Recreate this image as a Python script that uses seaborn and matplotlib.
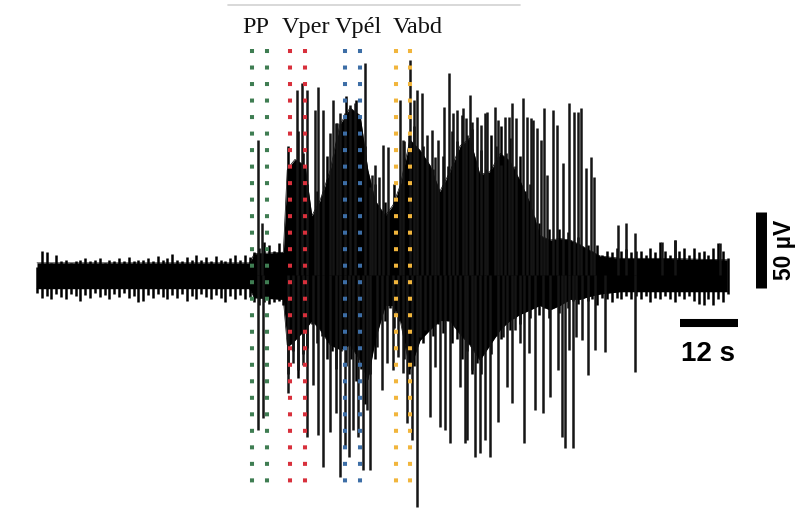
import numpy as np
import matplotlib
matplotlib.use("Agg")
import matplotlib.pyplot as plt
from matplotlib.lines import Line2D
import seaborn as sns

# ---------------- data (time in s, amplitude in µV) ----------------
# dense core of the EMG trace (inner envelope)
core_t = [0, 44, 45, 51, 51.8, 52.4, 53.4, 55.5, 56.9, 58.6, 60.7, 62.7, 64.8, 66.9,
          68.5, 70.0, 72.1, 73.7, 75.2, 77.2, 79.3, 81.4, 83.4, 85.5, 87.6, 89.6,
          91.7, 93.8, 95.9, 97.9, 100.0, 102.1, 104.1, 106.2, 108.3, 110.4, 112.4,
          114.5, 116.6, 120.7, 129.0, 142.9]
core_hi = [8, 8, 14, 15, 69, 72, 76, 72, 39, 49, 69, 99, 110, 105, 69, 49, 39, 46, 59,
           89, 82, 72, 55, 68, 85, 90, 66, 68, 80, 75, 62, 47, 26, 23, 24, 23, 20, 16,
           12.5, 11, 11, 10]
core_lo = [-9, -9, -15, -16, -46, -46, -43, -36, -30, -36, -46, -49, -46, -56, -69, -43,
           -20, -20, -30, -62, -43, -36, -30, -30, -39, -46, -56, -46, -36, -30, -26,
           -23, -20, -23, -20, -16, -16, -14, -12.5, -11, -11, -11]

# per-second peak excursions (t = 0 .. 143 s)
peak_hi = [5, 16, 15, 8, 13, 9, 10, 8, 9, 10,
           11, 9, 10, 11, 8, 10, 9, 11, 9, 12,
           9, 10, 10, 11, 9, 12.5, 10, 11, 14, 10,
           9, 12, 10, 13, 10, 12, 9, 12.5, 10, 9,
           11, 13, 10, 13, 12, 15,
           18, 22, 20, 16, 21, 15,
           85, 70, 95, 80, 60, 38, 55, 52, 78, 70,
           100, 92, 118, 105, 115, 95, 85, 55, 60, 40,
           48, 40, 60, 55, 88, 92, 98, 80, 85, 65,
           70, 55, 78, 72, 95, 88, 105, 92, 96, 70,
           82, 70, 92, 85, 98, 80, 90, 72, 78, 55,
           60, 38, 34, 24, 30, 22, 30, 24, 28, 20,
           25, 18, 20,
           16, 20, 13, 16, 15, 18, 16, 17, 15, 16,
           16, 13, 18, 15, 22, 16, 13, 23, 16, 18,
           13, 18, 15, 16, 13, 18, 21, 16, 11]
peak_lo = [-12, -15, -14, -16, -12.5, -14.5, -16, -12.5, -14, -17,
           -13, -15, -12, -14.5, -13, -16, -12.5, -14.5, -12, -15,
           -14, -18, -17, -13, -15, -12.5, -14.5, -16, -13, -15,
           -12.5, -17, -14, -16, -12.5, -14.5, -16, -13, -15, -18,
           -14, -16, -13, -16, -14.5, -18,
           -20, -18, -19, -18, -17, -20,
           -65, -50, -68, -52, -48, -32, -45, -40, -55, -50,
           -62, -50, -60, -55, -70, -62, -85, -65, -55, -28,
           -30, -22, -35, -30, -55, -65, -60, -42, -45, -35,
           -40, -32, -38, -30, -45, -42, -55, -50, -65, -58,
           -65, -48, -52, -40, -42, -30, -36, -28, -32, -24,
           -28, -22, -26, -22, -28, -20, -25, -18, -22, -17,
           -19, -15, -17,
           -16, -20, -15, -16, -18, -15, -16, -14, -16, -14,
           -16, -14, -18, -15, -16, -14, -16, -18, -14, -16,
           -14, -17, -19, -20, -16, -20, -16, -18, -12.5]

# isolated tall spikes
up_t = [45.8, 46.6, 53.8, 54.9, 55.9, 57.6, 58.2, 59.2, 60.7, 61.3, 62.1, 62.7, 63.8,
        64.8, 65.8, 67.9, 68.9, 69.4, 70.0, 70.8, 71.6, 72.7, 75.2, 75.8, 77.2, 78.1,
        78.7, 79.7, 80.7, 81.8, 82.4, 83.0, 84.3, 85.3, 86.1, 87.0, 88.2, 88.8, 89.6,
        90.1, 91.1, 91.9, 92.8, 93.2, 94.8, 95.4, 96.1, 96.9, 97.7, 98.3, 99.2, 100.6,
        101.4, 102.3, 102.7, 103.5, 104.3, 105.0, 105.6, 106.8, 107.7, 108.9, 110.1,
        111.2, 112.0, 112.6, 113.7, 114.7, 115.3, 120.3, 121.9, 123.8, 129.4, 132.1,
        141.4]
up_amp = [88.8, 34, 121.7, 126, 121.7, 108.6, 123.7, 108.6, 93.4, 115, 100, 106.6,
          106.6, 111.8, 113, 139.5, 58, 65.8, 72.4, 64.5, 85.5, 84.2, 115, 88.8, 141.4,
          115, 121.7, 119.7, 92, 95.4, 77.6, 88.8, 110.5, 132.9, 106.6, 108.6, 109.9,
          103.3, 118.4, 100.7, 103.9, 98.7, 106.6, 107.2, 110.5, 102, 72.4, 103.9,
          103.9, 113.2, 103.3, 116.4, 103.9, 103.3, 102, 96.7, 88.8, 109.9, 65.8,
          108.6, 98.7, 73.7, 113.2, 107.2, 107.2, 109.9, 70.4, 77.6, 64.5, 32.9, 34.2,
          27.6, 21.7, 23, 21]
down_t = [45.8, 46.8, 52.0, 53.0, 54.0, 55.1, 55.9, 57.1, 58.2, 59.2, 60.7, 61.9, 62.7,
          63.8, 64.6, 65.4, 66.5, 67.5, 68.3, 68.9, 70.4, 71.4, 72.5, 73.7, 74.7, 75.8,
          76.6, 77.6, 78.7, 79.3, 80.3, 81.4, 82.4, 83.4, 84.5, 85.5, 86.5, 87.6, 88.6,
          89.0, 90.1, 90.7, 91.7, 92.8, 93.8, 95.4, 96.5, 97.3, 98.3, 99.0, 100.0,
          100.8, 101.9, 103.1, 104.8, 106.2, 107.9, 108.7, 109.3, 110.1, 111.0, 111.6,
          112.8, 114.1, 115.5, 117.6, 123.8]
down_amp = [-102, -94, -77.6, -57.9, -62.5, -59.2, -106.6, -72.4, -105.3, -126.3,
            -103.3, -90.8, -132.9, -113.2, -119.7, -102, -106.6, -128.3, -88.8, -128.3,
            -47.4, -75.7, -57.9, -62.5, -53.9, -64.5, -97.4, -108.6, -152.6, -40.8,
            -36.2, -93.4, -60.5, -100, -102, -110.5, -34.2, -73.7, -110.5, -108.6,
            -62.5, -119.7, -117.1, -108.6, -119.7, -96.7, -40.8, -73.7, -84.2, -36.2,
            -44.7, -110.5, -51.3, -88.8, -90.8, -80.3, -62.5, -106.6, -113.8, -49.3,
            -113.8, -40.8, -42.8, -65.8, -49.3, -50.7, -63.8]

# marked phases
phase_names = ["PP", "Vper", "Vpél", "Vabd"]
phase_start = [44.5, 52.4, 63.8, 74.3]
phase_end = [47.6, 55.5, 66.9, 77.2]
phase_colors = ["#3f7d52", "#d8303c", "#3d6ea6", "#f1b53c"]
phase_label_t = [45.3, 55.6, 66.6, 78.9]

# scale bars
bar_time_s = 12
bar_amp_uV = 50

# ---------------- figure ----------------
sns.set_theme(style="white")
plt.rcParams["font.family"] = ["DejaVu Sans"]

fig = plt.figure(figsize=(7.96, 5.19), dpi=100)
fig.patch.set_facecolor("white")
ax = fig.add_axes([0, 0, 1, 1])
ax.set_facecolor("white")

peak_t = np.arange(len(peak_hi))

# dense core
ax.fill_between(core_t, core_lo, core_hi, color="black", lw=0, zorder=2)
sns.lineplot(x=core_t, y=core_hi, color="black", lw=0.5, ax=ax, zorder=2)
sns.lineplot(x=core_t, y=core_lo, color="black", lw=0.5, ax=ax, zorder=2)

# fine texture
ax.vlines(peak_t, peak_lo, peak_hi, color="black", lw=1.8, zorder=3)
# tall spikes
ax.vlines(up_t, 0, up_amp, color="#151515", lw=1.8, zorder=3)
ax.vlines(down_t, down_amp, 0, color="#151515", lw=1.8, zorder=3)

# dotted phase markers
top_v, bot_v = 148.7, -138.2
for s, e, c, name, lt in zip(phase_start, phase_end, phase_colors, phase_names, phase_label_t):
    for x in (s, e):
        ax.plot([x, x], [top_v, bot_v], color=c, lw=2.9, ls=(0, (1, 3.1)),
                dash_capstyle="butt", zorder=5)
    ax.text(lt, 159.2, name, ha="center", va="baseline", fontsize=17.5,
            family=["Liberation Serif", "DejaVu Serif"], color="#111111", zorder=6)

# scale bars
ax.plot([133.1, 133.1 + bar_time_s], [-31.6, -31.6], color="black", lw=5.8,
        solid_capstyle="butt", zorder=5)
ax.text(139.0, -52.0, f"{bar_time_s} s", ha="center", va="center", fontsize=20,
        fontweight="bold", family=["Liberation Sans", "DejaVu Sans"], color="black")
ax.plot([149.8, 149.8], [-8.6, -8.6 + bar_amp_uV], color="black", lw=7.9,
        solid_capstyle="butt", zorder=5)
ax.text(154.7, 16.4, f"{bar_amp_uV} µV", ha="center", va="center", rotation=90,
        fontsize=16.5, fontweight="bold", family=["Liberation Sans", "DejaVu Sans"],
        color="black")

# faint line at top of the image
fig.add_artist(Line2D([228 / 796, 520 / 796], [1 - 5 / 519, 1 - 5 / 519],
                      color="#d2d2d2", lw=1.2))

ax.set_xlim(-7.66, 157.14)
ax.set_ylim(-160.5, 180.9)
ax.axis("off")

fig.savefig("out.png", dpi=100, facecolor="white")
